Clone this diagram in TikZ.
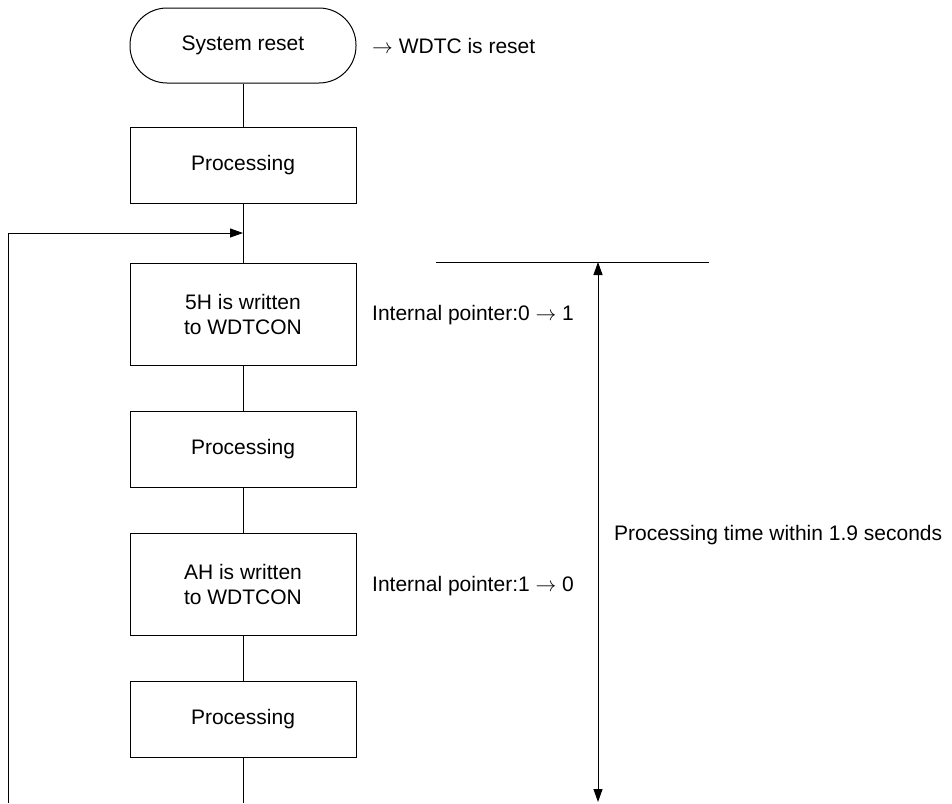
\documentclass[tikz,border=0pt]{standalone}
\usepackage{fontspec}
\setmainfont{Liberation Sans}
\usetikzlibrary{arrows.meta}
\begin{document}
\begin{tikzpicture}[x=1pt,y=-1pt,
  every node/.style={font=\fontsize{21}{25}\selectfont},
  flowbox/.style={draw,line width=1pt,minimum width=226pt,align=center,inner sep=0pt},
  termbox/.style={flowbox,rounded corners=37pt,minimum height=75pt},
  procbox/.style={flowbox,minimum height=76pt},
  writebox/.style={flowbox,minimum height=102pt},
  conn/.style={line width=1pt},
  tip/.style={-{Triangle[length=13pt,width=9pt]}},
  note/.style={anchor=west,inner sep=0pt}]
\useasboundingbox (0,0) rectangle (952,803);
\node[termbox] (sr) at (243,45.5) {System reset};
\node[procbox] (p1) at (243,165.5) {Processing};
\node[writebox] (w1) at (243,314) {5H is written\\to WDTCON};
\node[procbox] (p2) at (243,449) {Processing};
\node[writebox] (w2) at (243,584.5) {AH is written\\to WDTCON};
\node[procbox] (p3) at (243,719.5) {Processing};
\coordinate (bot) at (243,803);
\coordinate (loopbot) at (8,803);
\coordinate (looptop) at (8,233);
\coordinate (loopend) at (243,233);
\draw[conn] (sr) -- (p1);
\draw[conn] (p1) -- (w1);
\draw[conn] (w1) -- (p2);
\draw[conn] (p2) -- (w2);
\draw[conn] (w2) -- (p3);
\draw[conn] (p3) -- (bot);
\draw[conn,tip] (loopbot) -- (looptop) -- (loopend);
\node[note] (n0) at (372,45.5) {$\rightarrow$ WDTC is reset};
\node[note] (n1) at (372,315) {Internal pointer:0 $\rightarrow$ 1};
\node[note] (n2) at (372,586) {Internal pointer:1 $\rightarrow$ 0};
\coordinate (hl) at (436,262);
\coordinate (hr) at (709,262);
\coordinate (at) at (598,262);
\coordinate (ab) at (598,802);
\draw[conn] (hl) -- (hr);
\draw[conn,{Triangle[length=13pt,width=9pt]}-{Triangle[length=13pt,width=9pt]}] (at) -- (ab);
\node[note] (n3) at (614,535) {Processing time within 1.9 seconds};
\end{tikzpicture}
\end{document}
